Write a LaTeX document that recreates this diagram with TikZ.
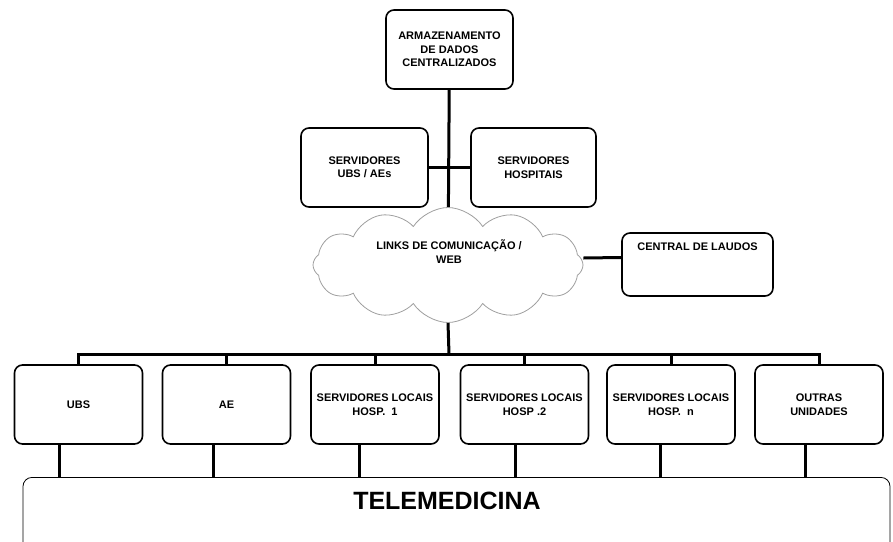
\documentclass[tikz,border=0pt]{standalone}
\usepackage{fontspec}
\setmainfont{Liberation Sans}
\usetikzlibrary{shapes.symbols,backgrounds}
\newcommand{\txtcx}{\fontsize{11}{13.5}\selectfont\bfseries}
\tikzset{
  caixa/.style={draw, line width=1.6pt, rounded corners=8pt, align=center,
    font=\txtcx, minimum width=127pt, minimum height=79pt, inner sep=1pt},
  liga/.style={line width=3pt},
}
\begin{document}
\begin{tikzpicture}[x=1pt,y=-1pt]
    \useasboundingbox (0,0) rectangle (893,541);
    % topo
    \node[caixa] (arm) at (449.5,49.5) {ARMAZENAMENTO\\DE DADOS\\CENTRALIZADOS};
    \node[caixa] (srvubs) at (364.5,167.5) {SERVIDORES\\UBS / AEs};
    \node[caixa, minimum width=125pt] (srvhosp) at (533.5,167.5) {SERVIDORES\\HOSPITAIS};

    % nuvem
    \node[cloud, draw=gray!75, fill=white, line width=0.8pt, cloud puffs=12, cloud puff arc=115,
      aspect=2.35, minimum width=270pt, minimum height=115pt] (nuvem) at (448,265) {};
    \node[font=\fontsize{11}{14}\selectfont\bfseries, align=center] (nuvemtxt) at (449,252)
      {LINKS DE COMUNICAÇÃO /\\WEB};
    \node[caixa, minimum width=151pt, minimum height=63pt,
      label={[anchor=north, font=\txtcx, yshift=-7pt]north:CENTRAL DE LAUDOS}] (laudos) at (697.5,264.5) {};

    % unidades
    \foreach \i/\x/\nome in {1/78.5/UBS, 2/226.5/AE, 3/375/{SERVIDORES LOCAIS\\HOSP.\ \ 1},
        4/524.5/{SERVIDORES LOCAIS\\HOSP .2}, 5/671/{SERVIDORES LOCAIS\\HOSP.\ \ n},
        6/819/{OUTRAS\\UNIDADES}}{
      \node[caixa, minimum width=128pt] (u\i) at (\x,404.5) {\nome};
    }

    % telemedicina
    \node[draw, line width=0.8pt, rounded corners=9pt, anchor=north, minimum width=867pt,
      minimum height=90pt] (tele) at (456.5,477) {};
    \node[font=\fontsize{25}{30}\selectfont\bfseries] (teletxt) at (447,501) {TELEMEDICINA};

    % ligacoes (por tras da nuvem)
    \begin{pgfonlayer}{background}
    \draw[liga] (arm) -- (nuvem);
    \draw[liga] (srvubs) -- (srvhosp);
    \draw[liga] ([yshift=7pt]nuvem.east) -- ([yshift=7pt]laudos.west);
    \coordinate (barra) at (449,354);
    \draw[liga] (nuvem.south) -- (barra);
    \draw[liga] (u1.north) |- (barra) -| (u6.north);
    \foreach \i in {2,3,4,5}{
      \draw[liga] (u\i.north) -- (u\i.north |- barra);
    }
    \foreach \i/\d in {1/-19,2/-13,3/-16,4/-9,5/-11,6/-14}{
      \draw[liga] ([xshift=\d pt]u\i.south) -- ([xshift=\d pt]u\i.south |- tele.north);
    }
    \end{pgfonlayer}
\end{tikzpicture}
\end{document}
